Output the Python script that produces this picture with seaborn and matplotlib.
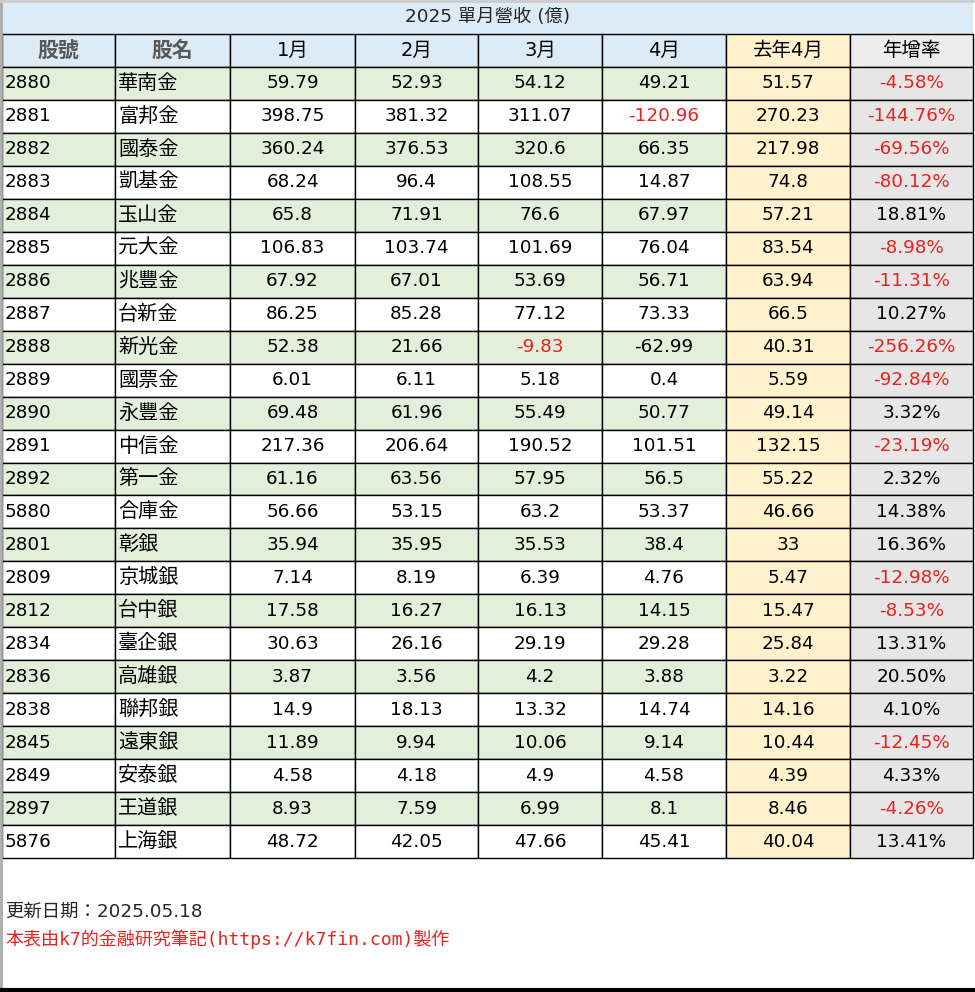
import matplotlib.pyplot as plt
from matplotlib import font_manager
from matplotlib.patches import Rectangle
import seaborn as sns

sns.set_style("white")
available = {f.name for f in font_manager.fontManager.ttflist}
cjk = [n for n in ['Noto Sans CJK TC', 'Noto Sans CJK JP', 'Noto Sans CJK SC', 'Noto Sans CJK KR'] if n in available]
plt.rcParams['font.family'] = ['DejaVu Sans'] + cjk

title = '2025 單月營收 (億)'
headers = ['股號', '股名', '1月', '2月', '3月', '4月', '去年4月', '年增率']
codes = ['2880', '2881', '2882', '2883', '2884', '2885', '2886', '2887', '2888', '2889', '2890', '2891',
         '2892', '5880', '2801', '2809', '2812', '2834', '2836', '2838', '2845', '2849', '2897', '5876']
names = ['華南金', '富邦金', '國泰金', '凱基金', '玉山金', '元大金', '兆豐金', '台新金', '新光金', '國票金',
         '永豐金', '中信金', '第一金', '合庫金', '彰銀', '京城銀', '台中銀', '臺企銀', '高雄銀', '聯邦銀',
         '遠東銀', '安泰銀', '王道銀', '上海銀']
jan = ['59.79', '398.75', '360.24', '68.24', '65.8', '106.83', '67.92', '86.25', '52.38', '6.01', '69.48', '217.36',
       '61.16', '56.66', '35.94', '7.14', '17.58', '30.63', '3.87', '14.9', '11.89', '4.58', '8.93', '48.72']
feb = ['52.93', '381.32', '376.53', '96.4', '71.91', '103.74', '67.01', '85.28', '21.66', '6.11', '61.96', '206.64',
       '63.56', '53.15', '35.95', '8.19', '16.27', '26.16', '3.56', '18.13', '9.94', '4.18', '7.59', '42.05']
mar = ['54.12', '311.07', '320.6', '108.55', '76.6', '101.69', '53.69', '77.12', '-9.83', '5.18', '55.49', '190.52',
       '57.95', '63.2', '35.53', '6.39', '16.13', '29.19', '4.2', '13.32', '10.06', '4.9', '6.99', '47.66']
apr = ['49.21', '-120.96', '66.35', '14.87', '67.97', '76.04', '56.71', '73.33', '-62.99', '0.4', '50.77', '101.51',
       '56.5', '53.37', '38.4', '4.76', '14.15', '29.28', '3.88', '14.74', '9.14', '4.58', '8.1', '45.41']
apr_last = ['51.57', '270.23', '217.98', '74.8', '57.21', '83.54', '63.94', '66.5', '40.31', '5.59', '49.14', '132.15',
            '55.22', '46.66', '33', '5.47', '15.47', '25.84', '3.22', '14.16', '10.44', '4.39', '8.46', '40.04']
yoy = ['-4.58%', '-144.76%', '-69.56%', '-80.12%', '18.81%', '-8.98%', '-11.31%', '10.27%', '-256.26%', '-92.84%',
       '3.32%', '-23.19%', '2.32%', '14.38%', '16.36%', '-12.98%', '-8.53%', '13.31%', '20.50%', '4.10%',
       '-12.45%', '4.33%', '-4.26%', '13.41%']
red_cells = [(1, 5), (8, 4)]  # (row, col) of month cells shown in red

columns = [codes, names, jan, feb, mar, apr, apr_last, yoy]
col_edges = [2, 115, 230, 355, 478, 602, 726, 850, 973]
title_h, head_h, row_h = 34, 33, 32.96
green, blue, yellow, gray, red = '#e2efda', '#ddebf7', '#fff2cc', '#e7e6e6', '#e8231f'
fs = 13.2

fig = plt.figure(figsize=(9.75, 9.92), dpi=100)
ax = fig.add_axes([0, 0, 1, 1])
ax.set_xlim(0, 975)
ax.set_ylim(992, 0)
ax.axis('off')


def cell(x0, x1, y0, y1, fc, lw=1):
    ax.add_patch(Rectangle((x0, y0), x1 - x0, y1 - y0, facecolor=fc, edgecolor='black', lw=lw))


# title
ax.add_patch(Rectangle((col_edges[0], 0), col_edges[-1] - col_edges[0], title_h, facecolor=blue, edgecolor='none'))
ax.text((col_edges[0] + col_edges[-1]) / 2, title_h / 2, title, ha='center', va='center', fontsize=fs)

# header
for j, h in enumerate(headers):
    fc = yellow if j == 6 else ('#ededed' if j == 7 else blue)
    cell(col_edges[j], col_edges[j + 1], title_h, title_h + head_h, fc)
    bold = j < 2
    ax.text((col_edges[j] + col_edges[j + 1]) / 2, title_h + head_h / 2, h, ha='center', va='center',
            fontsize=15 if bold else 14, fontweight='bold' if bold else 'normal',
            color='#595959' if bold else 'black')

# body
y_start = title_h + head_h
for i in range(len(codes)):
    y0 = y_start + i * row_h
    for j, col in enumerate(columns):
        if j == 6:
            fc = yellow
        elif j == 7:
            fc = gray
        else:
            fc = green if i % 2 == 0 else 'white'
        cell(col_edges[j], col_edges[j + 1], y0, y0 + row_h, fc)
        val = col[i]
        color = 'black'
        if (i, j) in red_cells or (j == 7 and val.startswith('-')):
            color = red
        if j < 2:
            ax.text(col_edges[j] + 3, y0 + row_h / 2, val, ha='left', va='center',
                    fontsize=fs if j == 0 else 14.5, color=color)
        else:
            ax.text((col_edges[j] + col_edges[j + 1]) / 2, y0 + row_h / 2, val, ha='center', va='center',
                    fontsize=fs, color=color)

# frame
ax.plot([1, 1], [0, 992], color='#aaaaaa', lw=2)
ax.plot([0, 975], [1, 1], color='#cccccc', lw=2)
ax.plot([0, 975], [990, 990], color='black', lw=3)

ax.text(5, 912, '更新日期：2025.05.18', ha='left', va='center', fontsize=fs)
ax.text(5, 939, '本表由k7的金融研究筆記(https://k7fin.com)製作', ha='left', va='center', fontsize=13,
        color=red, family=['DejaVu Sans Mono'] + cjk)

fig.savefig('out.png', dpi=100)
